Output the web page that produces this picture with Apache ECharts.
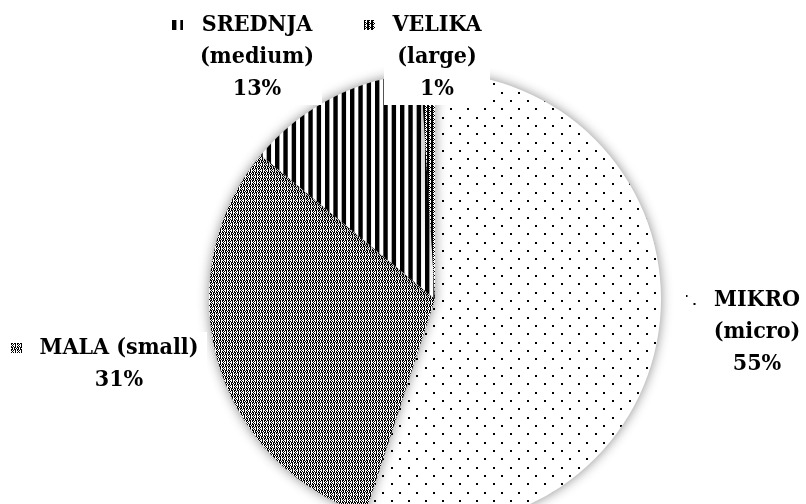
<!DOCTYPE html>
<html><head><meta charset="utf-8">
<script src="https://cdn.jsdelivr.net/npm/echarts@6/dist/echarts.min.js"></script>
<style>html,body{margin:0;padding:0;background:#fff}#c{width:806px;height:504px}</style>
</head><body><div id="c"></div>
<script>
// ---- data ----
const categories = ['MIKRO', 'MALA', 'SREDNJA', 'VELIKA'];
const subLabels = ['(micro)', '(small)', '(medium)', '(large)'];
const values = [55, 31, 13, 1];

// ---- layout (not data) ----
const joinNameSub = [false, true, false, false];
const labelPos = [[757, 332], [119, 364], [257, 57], [437, 57]]; // text-column centre x, block centre y
const FONT_SIZE = 23, LINE_H = 32, FONT_FAMILY = 'DejaVu Serif Condensed';
const MARK_W = 11, MARK_H = 10, GAP = 9, PAD = 8;

function mk(w, h) { const c = document.createElement('canvas'); c.width = w; c.height = h; return c; }
function tileDots() {
  const c = mk(17, 50), x = c.getContext('2d');
  x.fillStyle = '#fff'; x.fillRect(0, 0, 17, 50); x.fillStyle = '#000';
  for (let k = 0; k < 6; k++) { const y = Math.round(k * 50 / 6); x.fillRect(k % 2 ? 8 : 0, y, 2, 2); }
  return c;
}
function tileCheck() {
  const rows = ['XX.XX.', 'X.X.X.', '.X..X.', 'X.X.X.', 'XX.XX.', '.X.X.X'];
  const c = mk(6, 6), x = c.getContext('2d');
  x.fillStyle = '#fff'; x.fillRect(0, 0, 6, 6); x.fillStyle = '#000';
  rows.forEach((r, j) => { for (let i = 0; i < 6; i++) if (r[i] === 'X') x.fillRect(i, j, 1, 1); });
  return c;
}
function tileStripes() {
  const c = mk(25, 4), x = c.getContext('2d');
  x.fillStyle = '#fff'; x.fillRect(0, 0, 25, 4); x.fillStyle = '#000';
  for (let k = 0; k < 3; k++) x.fillRect(k * 25 / 3, 0, 4.4, 4);
  return c;
}
function tileZig() {
  const rows = ['XX.X', 'X..X', 'XX.X', 'X.XX'];
  const c = mk(4, 4), x = c.getContext('2d');
  x.fillStyle = '#fff'; x.fillRect(0, 0, 4, 4); x.fillStyle = '#000';
  rows.forEach((r, j) => { for (let i = 0; i < 4; i++) if (r[i] === 'X') x.fillRect(i, j, 1, 1); });
  return c;
}
const tiles = [tileDots(), tileCheck(), tileStripes(), tileZig()];
function markerCanvas(tile) {
  const c = mk(MARK_W, MARK_H), x = c.getContext('2d');
  x.fillStyle = x.createPattern(tile, 'repeat'); x.fillRect(0, 0, MARK_W, MARK_H);
  return c;
}

const total = values.reduce((a, b) => a + b, 0);
function linesFor(i, pct) {
  const p = Math.round(pct) + '%';
  return joinNameSub[i] ? [categories[i] + ' ' + subLabels[i], p] : [categories[i], subLabels[i], p];
}
const mctx = mk(10, 10).getContext('2d');
mctx.font = 'bold ' + FONT_SIZE + 'px "' + FONT_FAMILY + '"';
const colW = categories.map((n, i) => {
  const ls = linesFor(i, values[i] / total * 100);
  return Math.ceil(Math.max(...ls.map(l => mctx.measureText(l).width))) + 2 * PAD;
});

const rich = {};
categories.forEach((n, i) => {
  rich['m' + i] = { width: MARK_W, height: MARK_H, lineHeight: LINE_H, align: 'left', backgroundColor: { image: markerCanvas(tiles[i]) } };
  rich['t' + i] = { width: colW[i], height: LINE_H, lineHeight: LINE_H, align: 'center', backgroundColor: '#fff',
    fontFamily: FONT_FAMILY, fontWeight: 'bold', fontSize: FONT_SIZE, color: '#000' };
});
rich.g = { width: GAP, lineHeight: LINE_H, align: 'left' };
rich.s = { width: MARK_W + GAP, lineHeight: LINE_H, align: 'left' };

const chart = echarts.init(document.getElementById('c'), null, { renderer: 'canvas' });
chart.setOption({
  backgroundColor: '#fff',
  animation: false,
  series: [{
    type: 'pie',
    center: [435, 299],
    radius: 226,
    startAngle: 90,
    clockwise: true,
    avoidLabelOverlap: false,
    emphasis: { disabled: true },
    itemStyle: { borderWidth: 0, shadowBlur: 12, shadowColor: 'rgba(0,0,0,0.45)' },
    labelLine: { show: false },
    label: {
      show: true,
      position: 'outside',
      fontFamily: FONT_FAMILY, fontWeight: 'bold', fontSize: FONT_SIZE, color: '#000',
      formatter: p => {
        const i = p.dataIndex;
        return linesFor(i, p.percent).map((l, k) =>
          (k === 0 ? '{m' + i + '| }{g| }' : '{s| }') + '{t' + i + '|' + l + '}').join('\n');
      },
      rich: rich
    },
    labelLayout: p => {
      const i = p.dataIndex;
      return { x: labelPos[i][0] - (MARK_W + GAP) / 2, y: labelPos[i][1], align: 'center', verticalAlign: 'middle' };
    },
    data: categories.map((n, i) => ({
      name: n, value: values[i],
      itemStyle: { color: { image: tiles[i], repeat: 'repeat' } }
    }))
  }]
});
</script></body></html>
